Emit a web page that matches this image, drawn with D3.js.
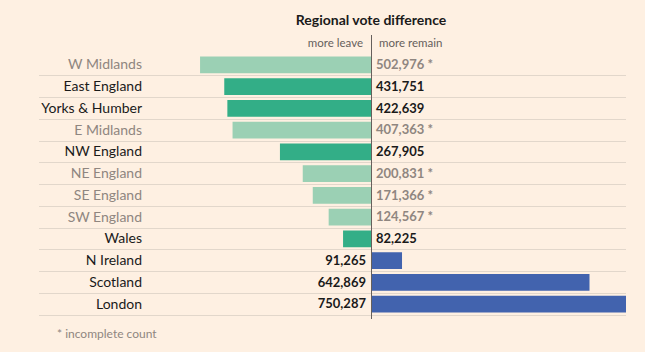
<!DOCTYPE html>
<html><head><meta charset="utf-8">
<script src="https://cdn.jsdelivr.net/npm/d3@7"></script>
<style>
html,body{margin:0;padding:0;background:#fef0e2;}
svg{display:block;font-family:Lato,"Open Sans",sans-serif;}
</style></head>
<body><svg id="c" width="645" height="352"></svg>
<script>
const regions = ["W Midlands","East England","Yorks & Humber","E Midlands","NW England","NE England","SE England","SW England","Wales","N Ireland","Scotland","London"];
const votes = [502976,431751,422639,407363,267905,200831,171366,124567,82225,91265,642869,750287];
const sides = ["leave","leave","leave","leave","leave","leave","leave","leave","leave","remain","remain","remain"];
const complete = [false,true,true,false,true,false,false,false,true,true,true,true];
const title = "Regional vote difference";
const sideLabels = ["more leave","more remain"];
const footnote = "* incomplete count";

const data = regions.map((r,i)=>({region:r,value:votes[i],side:sides[i],complete:complete[i]}));
const svg = d3.select("#c");
const cx = 371;
const x = d3.scaleLinear().domain([0,750287]).range([0,255]);
const y = d3.scaleBand().domain(regions).range([53.5,314.5]).paddingInner(0).paddingOuter(0);
const fmt = d3.format(",");

svg.append("text").attr("x",cx).attr("y",25).attr("text-anchor","middle")
  .attr("font-weight","bold").attr("font-size",14).attr("fill","#1a1a1a").text(title);
svg.append("text").attr("x",cx-8).attr("y",47).attr("text-anchor","end")
  .attr("font-size",11.5).attr("fill","#66605c").text(sideLabels[0]);
svg.append("text").attr("x",cx+8).attr("y",47).attr("text-anchor","start")
  .attr("font-size",11.5).attr("fill","#66605c").text(sideLabels[1]);

// separators
svg.append("g").selectAll("line").data(data).join("line")
  .attr("x1",39).attr("x2",626)
  .attr("y1",d=>Math.round(y(d.region)+y.bandwidth())+0.5).attr("y2",d=>Math.round(y(d.region)+y.bandwidth())+0.5)
  .attr("stroke","#e2d7cb").attr("stroke-width",1);

const colorFor = d => d.side==="remain" ? "#4263ae" : (d.complete ? "#33ae87" : "#9bd0b4");
svg.append("g").selectAll("rect").data(data).join("rect")
  .attr("x",d=>d.side==="leave"? cx - x(d.value) : cx)
  .attr("width",d=>x(d.value))
  .attr("y",d=>y(d.region)+3)
  .attr("height",y.bandwidth()-5)
  .attr("fill",colorFor);

const txtCol = d => d.complete ? "#1a1a1a" : "#8f8680";
svg.append("g").selectAll("text").data(data).join("text")
  .attr("x",142).attr("y",d=>y(d.region)+y.bandwidth()/2).attr("dy","0.36em")
  .attr("text-anchor","end").attr("font-size",14).attr("fill",txtCol).text(d=>d.region);

svg.append("g").selectAll("text").data(data).join("text")
  .attr("x",d=>d.side==="leave"? cx+5 : cx-5)
  .attr("y",d=>y(d.region)+y.bandwidth()/2).attr("dy","0.36em")
  .attr("text-anchor",d=>d.side==="leave"?"start":"end")
  .attr("font-size",13).attr("font-weight","bold").attr("fill",txtCol)
  .text(d=>fmt(d.value)+(d.complete?"":" *"));

svg.append("line").attr("x1",cx+0.5).attr("x2",cx+0.5).attr("y1",35).attr("y2",319)
  .attr("stroke","#66605c").attr("stroke-width",1);

svg.append("text").attr("x",57).attr("y",338).attr("font-size",12)
  .attr("fill","#8f8680").text(footnote);
</script></body></html>
